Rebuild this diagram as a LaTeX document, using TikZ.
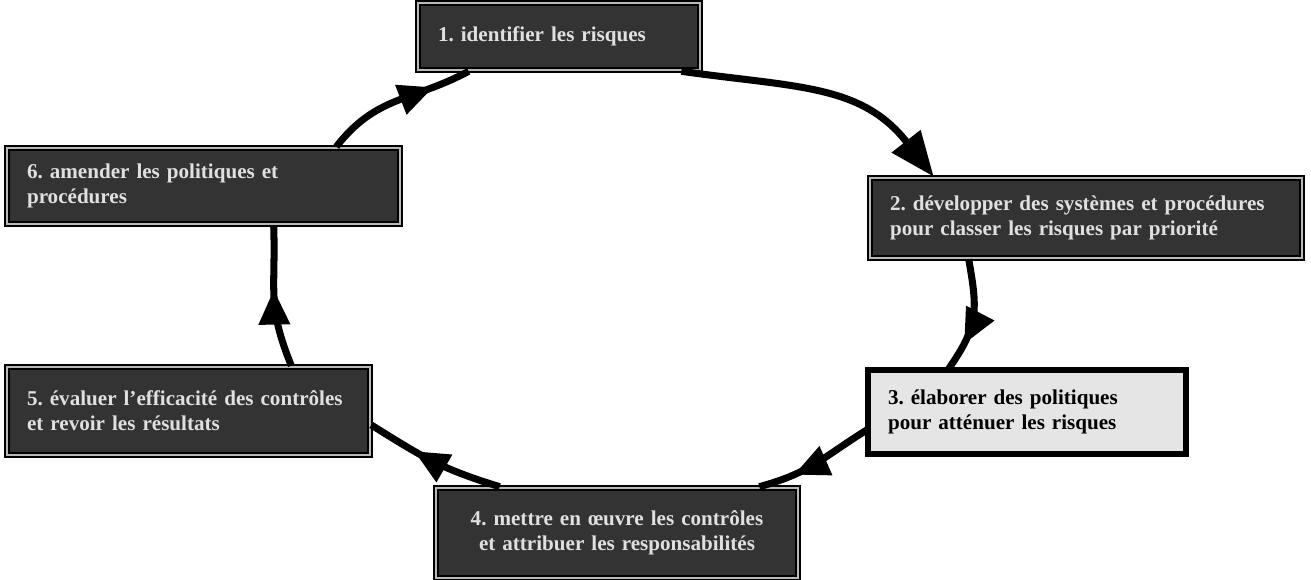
\documentclass[tikz,border=0pt]{standalone}
\usepackage{fontspec}
\setmainfont{Liberation Serif}
\usetikzlibrary{arrows.meta,decorations.markings}

\newcommand\stagefont{\frenchspacing\fontsize{12}{14}\selectfont\bfseries}

\begin{document}
\begin{tikzpicture}[
  x=0.02cm, y=0.02cm,
  stage/.style={rectangle, draw=black, line width=1.5pt, double=gray!55,
    double distance=0.8pt, fill=black!80, text=white!88!black,
    font=\stagefont, align=left, inner xsep=0.4cm},
  lightstage/.style={stage, double=black, fill=black!10, text=black},
  flow/.style={draw=black, line width=4pt},
  midarrow/.style={postaction={decorate}, decoration={markings,
    mark=at position #1 with {\arrow{Triangle[length=0.7cm,width=0.6cm]}}}}
]
  \useasboundingbox (0,0) rectangle (1311,580);

  \node[stage, text width=4.84cm, minimum height=1.34cm] (ident) at (559,543.5)
    {1. identifier les risques};
  \node[stage, text width=7.84cm, minimum height=1.6cm] (classer) at (1086,362)
    {2. développer des systèmes et procédures\\pour classer les risques par priorité};
  \node[lightstage, text width=5.56cm, minimum height=1.68cm] (attenuer) at (1027,168)
    {3. élaborer des politiques\\pour atténuer les risques};
  \node[stage, align=center, text width=6.44cm, minimum height=1.8cm] (controles) at (617,47)
    {4. mettre en œuvre les contrôles\\et attribuer les responsabilités};
  \node[stage, text width=6.46cm, minimum height=1.76cm] (evaluer) at (188.5,169)
    {5. évaluer l'efficacité des contrôles\\et revoir les résultats};
  \node[stage, text width=7.06cm, minimum height=1.52cm] (amender) at (203.5,394)
    {6. amender les politiques et\\procédures};

  \draw[flow, -{Triangle[length=0.9cm,width=0.7cm]}]
    ([xshift=-0.4cm]ident.south east) to[out=-8, in=128, looseness=1.1] ([xshift=1.3cm]classer.north west);
  \draw[flow, midarrow=0.75]
    ([xshift=2cm]classer.south west) to[out=-80, in=55, looseness=1.2] ([xshift=1.64cm]attenuer.north west);
  \draw[flow, midarrow=0.7]
    ([yshift=-0.36cm]attenuer.west) to[out=-148, in=15, looseness=1.1] ([xshift=-0.8cm]controles.north east);
  \draw[flow, midarrow=0.65]
    ([xshift=1.3cm]controles.north west) to[out=163, in=-32, looseness=1.1] ([yshift=-0.28cm]evaluer.east);
  \draw[flow, midarrow=0.55]
    ([xshift=-1.6cm]evaluer.north east) to[out=112, in=-88, looseness=1.2] ([xshift=5.36cm]amender.south west);
  \draw[flow, midarrow=0.75]
    ([xshift=-1.3cm]amender.north east) to[out=52, in=-152, looseness=1.1] ([xshift=1.04cm]ident.south west);
\end{tikzpicture}
\end{document}
